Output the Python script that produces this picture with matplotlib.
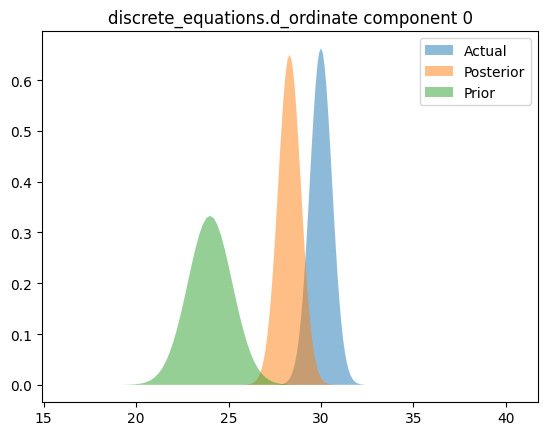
import matplotlib
matplotlib.use('Agg')
import matplotlib.pyplot as plt

# density curves
actual_x = [27.6, 27.7, 27.8, 27.9, 28.0, 28.1, 28.2, 28.3, 28.4, 28.5, 28.6, 28.7,
            28.8, 28.9, 29.0, 29.1, 29.2, 29.3, 29.4, 29.5, 29.6, 29.7, 29.8, 29.9,
            30.0,
            30.1, 30.2, 30.3, 30.4, 30.5, 30.6, 30.7, 30.8, 30.9, 31.0, 31.1, 31.2,
            31.3, 31.4, 31.5, 31.6, 31.7, 31.8, 31.9, 32.0, 32.1, 32.2, 32.3, 32.4]
actual_y = [0.0002, 0.0004, 0.0008, 0.0015, 0.0026, 0.0044, 0.0074, 0.0120, 0.0189, 0.0291, 0.0436, 0.0634,
            0.0897, 0.1235, 0.1653, 0.2153, 0.2726, 0.3357, 0.4021, 0.4685, 0.5309, 0.5851, 0.6272, 0.6539,
            0.663,
            0.6539, 0.6272, 0.5851, 0.5309, 0.4685, 0.4021, 0.3357, 0.2726, 0.2153, 0.1653, 0.1235, 0.0897,
            0.0634, 0.0436, 0.0291, 0.0189, 0.0120, 0.0074, 0.0044, 0.0026, 0.0015, 0.0008, 0.0004, 0.0002]

posterior_x = [25.9, 26.0, 26.1, 26.2, 26.3, 26.4, 26.5, 26.6, 26.7, 26.8, 26.9, 27.0,
               27.1, 27.2, 27.3, 27.4, 27.5, 27.6, 27.7, 27.8, 27.9, 28.0, 28.1, 28.2,
               28.3,
               28.4, 28.5, 28.6, 28.7, 28.8, 28.9, 29.0, 29.1, 29.2, 29.3, 29.4, 29.5,
               29.6, 29.7, 29.8, 29.9, 30.0, 30.1, 30.2, 30.3, 30.4, 30.5, 30.6, 30.7]
posterior_y = [0.0003, 0.0006, 0.0011, 0.0019, 0.0032, 0.0054, 0.0089, 0.0141, 0.0218, 0.0329, 0.0483, 0.0691,
               0.0963, 0.1307, 0.1726, 0.2220, 0.2781, 0.3394, 0.4033, 0.4666, 0.5257, 0.5769, 0.6164, 0.6414,
               0.650,
               0.6414, 0.6164, 0.5769, 0.5257, 0.4666, 0.4033, 0.3394, 0.2781, 0.2220, 0.1726, 0.1307, 0.0963,
               0.0691, 0.0483, 0.0329, 0.0218, 0.0141, 0.0089, 0.0054, 0.0032, 0.0019, 0.0011, 0.0006, 0.0003]

prior_x = [19.2, 19.4, 19.6, 19.8, 20.0, 20.2, 20.4, 20.6, 20.8, 21.0, 21.2, 21.4,
           21.6, 21.8, 22.0, 22.2, 22.4, 22.6, 22.8, 23.0, 23.2, 23.4, 23.6, 23.8,
           24.0,
           24.2, 24.4, 24.6, 24.8, 25.0, 25.2, 25.4, 25.6, 25.8, 26.0, 26.2, 26.4,
           26.6, 26.8, 27.0, 27.2, 27.4, 27.6, 27.8, 28.0, 28.2, 28.4, 28.6, 28.8]
prior_y = [0.0001, 0.0002, 0.0004, 0.0007, 0.0013, 0.0022, 0.0037, 0.0060, 0.0095, 0.0146, 0.0219, 0.0318,
           0.0451, 0.0620, 0.0831, 0.1081, 0.1369, 0.1686, 0.2020, 0.2353, 0.2666, 0.2939, 0.3150, 0.3284,
           0.333,
           0.3284, 0.3150, 0.2939, 0.2666, 0.2353, 0.2020, 0.1686, 0.1369, 0.1081, 0.0831, 0.0620, 0.0451,
           0.0318, 0.0219, 0.0146, 0.0095, 0.0060, 0.0037, 0.0022, 0.0013, 0.0007, 0.0004, 0.0002, 0.0001]

fig = plt.figure(figsize=(5.47, 4.35), dpi=100)
ax = fig.add_subplot(111)
fig.subplots_adjust(left=0.0771, right=0.9835, top=0.9257, bottom=0.0743)

ax.fill_between(actual_x, actual_y, alpha=0.5, label='Actual', linewidth=0)
ax.fill_between(posterior_x, posterior_y, alpha=0.5, label='Posterior', linewidth=0)
ax.fill_between(prior_x, prior_y, alpha=0.5, label='Prior', linewidth=0)

ax.set_xlim(14.92, 41.74)
ax.set_title('discrete_equations.d_ordinate component 0')
ax.legend(loc='upper right')

fig.savefig('out.png', dpi=100)
